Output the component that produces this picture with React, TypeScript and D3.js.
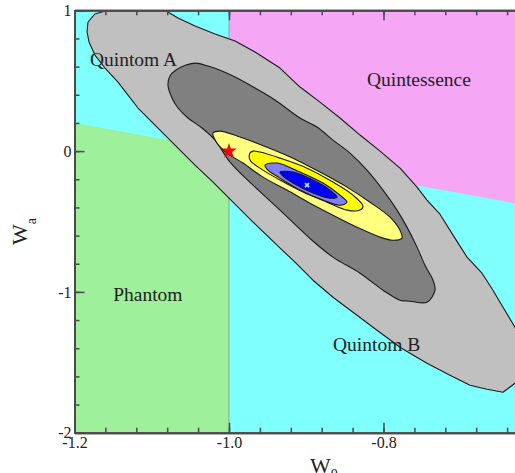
import { useEffect, useRef } from 'react';
import * as d3 from 'd3';

const W = 515;
const H = 473;
const SERIF = '"Liberation Serif", "Times New Roman", serif';

// axes
const xDomain = [-1.2, -0.6];
const yDomain = [-2, 1];
const xMajorTicks = [-1.2, -1.0, -0.8];
const yMajorTicks = [-2, -1, 0, 1];
const xMinorTicks = d3.range(0, 16).map(i => -1.2 + i * 0.04);
const yMinorTicks = d3.range(0, 16).map(i => -2 + i * 0.2);

// background regions (w0, wa)
const phantomRegion = [[-1.2, -2], [-1.2, 0.2], [-1.0, 0.0], [-1.0, -2]];
const quintessenceRegion = [[-1.0, 1], [-0.6, 1], [-0.6, -0.4], [-1.0, 0.0]];

// contours, outer to inner (w0, wa)
const outerGray = [
  [-1.1825, 0.917], [-1.1735, 0.974], [-1.1566, 1.0], [-1.0829, 1.0], [-1.066, 0.945], [-1.044, 0.888],
  [-1.0181, 0.832], [-0.9922, 0.782], [-0.9663, 0.704], [-0.934, 0.59], [-0.9081, 0.455], [-0.8822, 0.348],
  [-0.8563, 0.235], [-0.8304, 0.114], [-0.8045, 0], [-0.7786, -0.121], [-0.7566, -0.256], [-0.7437, -0.348],
  [-0.7269, -0.448], [-0.71, -0.597], [-0.6919, -0.753], [-0.6725, -0.867], [-0.6583, -0.988], [-0.6453, -1.109],
  [-0.6298, -1.251], [-0.6181, -1.4], [-0.6142, -1.542], [-0.6298, -1.649], [-0.6453, -1.713], [-0.666, -1.692],
  [-0.688, -1.663], [-0.7139, -1.592], [-0.7437, -1.507], [-0.7657, -1.436], [-0.7786, -1.393], [-0.8084, -1.272],
  [-0.8343, -1.166], [-0.8654, -1.038], [-0.8913, -0.917], [-0.9146, -0.789], [-0.9405, -0.654], [-0.9728, -0.483],
  [-1.0, -0.334], [-1.022, -0.213], [-1.044, -0.1], [-1.066, 0.021], [-1.0829, 0.114], [-1.0997, 0.206],
  [-1.1178, 0.306], [-1.1307, 0.398], [-1.1437, 0.49], [-1.1605, 0.59], [-1.1735, 0.682], [-1.1812, 0.775],
  [-1.1838, 0.846],
];
const darkGray = [
  [-1.079, 0.469], [-1.0764, 0.533], [-1.0686, 0.576], [-1.0557, 0.611], [-1.0427, 0.625], [-1.0272, 0.604],
  [-1.0091, 0.569], [-0.9922, 0.526], [-0.9663, 0.448], [-0.9405, 0.363], [-0.9081, 0.235], [-0.8861, 0.171],
  [-0.8654, 0.078], [-0.8434, -0.014], [-0.8214, -0.135], [-0.8006, -0.277], [-0.7825, -0.419], [-0.7696, -0.54],
  [-0.7566, -0.682], [-0.7463, -0.81], [-0.7359, -0.917], [-0.7333, -0.988], [-0.7437, -1.073], [-0.7657, -1.066],
  [-0.7786, -1.059], [-0.8006, -0.988], [-0.8304, -0.867], [-0.8654, -0.753], [-0.8926, -0.633], [-0.934, -0.419],
  [-0.9689, -0.242], [-0.9987, -0.078], [-1.0181, 0.078], [-1.035, 0.164], [-1.0531, 0.235], [-1.066, 0.306],
  [-1.0738, 0.377],
];
const lightYellow = [
  [-1.0207, 0.128], [-1.0117, 0.142], [-0.9858, 0.1], [-0.9508, 0.028], [-0.9172, -0.05], [-0.8822, -0.149],
  [-0.8473, -0.256], [-0.8175, -0.363], [-0.7916, -0.469], [-0.7786, -0.562], [-0.7761, -0.618], [-0.7877, -0.633],
  [-0.8045, -0.611], [-0.8343, -0.54], [-0.8654, -0.455], [-0.8951, -0.37], [-0.9249, -0.277], [-0.956, -0.185],
  [-0.9819, -0.085], [-1.0026, -0.014], [-1.0155, 0.057],
];
const yellow = [
  [-0.9728, -0.014], [-0.9689, 0], [-0.9599, -0.007], [-0.934, -0.05], [-0.899, -0.121], [-0.8654, -0.22],
  [-0.8395, -0.313], [-0.8265, -0.391], [-0.8304, -0.419], [-0.8473, -0.419], [-0.8731, -0.363], [-0.9042, -0.291],
  [-0.934, -0.206], [-0.9599, -0.121], [-0.9728, -0.064],
];
const lightBlue = [
  [-0.9534, -0.1], [-0.9379, -0.085], [-0.9081, -0.149], [-0.8783, -0.227], [-0.8563, -0.313], [-0.8473, -0.363],
  [-0.8563, -0.384], [-0.8783, -0.348], [-0.9081, -0.277], [-0.934, -0.192], [-0.9495, -0.135],
];
const blue = [
  [-0.934, -0.149], [-0.9172, -0.149], [-0.8913, -0.206], [-0.8693, -0.277], [-0.8602, -0.327], [-0.8693, -0.334],
  [-0.8913, -0.298], [-0.9172, -0.227], [-0.9314, -0.171],
];

const contours = [
  { pts: outerGray, fill: '#c0c0c0', curve: d3.curveLinearClosed },
  { pts: darkGray, fill: '#808080', curve: d3.curveCatmullRomClosed },
  { pts: lightYellow, fill: '#ffff80', curve: d3.curveCatmullRomClosed },
  { pts: yellow, fill: '#ffff00', curve: d3.curveCatmullRomClosed },
  { pts: lightBlue, fill: '#8080ff', curve: d3.curveCatmullRomClosed },
  { pts: blue, fill: '#0000ff', curve: d3.curveCatmullRomClosed },
];

const regionLabels = [
  { text: 'Quintom A', w0: -1.18, wa: 0.604 },
  { text: 'Quintessence', w0: -0.8214, wa: 0.462 },
  { text: 'Phantom', w0: -1.15, wa: -1.066 },
  { text: 'Quintom B', w0: -0.8654, wa: -1.421 },
];

const lcdmPoint = [-1.0, 0.0];
const bestFit = [-0.899, -0.242];

export default function App() {
  const svgRef = useRef(null);

  useEffect(() => {
    const svg = d3.select(svgRef.current);
    svg.selectAll('*').remove();

    const x = d3.scaleLinear().domain(xDomain).range([74.5, 538]);
    const y = d3.scaleLinear().domain(yDomain).range([432.7, 10.3]);

    svg.append('clipPath').attr('id', 'plot-clip')
      .append('rect')
      .attr('x', x(xDomain[0])).attr('y', y(yDomain[1]))
      .attr('width', x(xDomain[1]) - x(xDomain[0])).attr('height', y(yDomain[0]) - y(yDomain[1]));

    const plot = svg.append('g').attr('clip-path', 'url(#plot-clip)');
    const poly = d3.line().x(d => x(d[0])).y(d => y(d[1])).curve(d3.curveLinearClosed);

    // backgrounds
    plot.append('rect')
      .attr('x', x(xDomain[0])).attr('y', y(yDomain[1]))
      .attr('width', x(xDomain[1]) - x(xDomain[0])).attr('height', y(yDomain[0]) - y(yDomain[1]))
      .attr('fill', '#80ffff');
    plot.append('path').attr('d', poly(phantomRegion)).attr('fill', '#9ef09a');
    plot.append('path').attr('d', poly(quintessenceRegion)).attr('fill', '#f5a6f5');
    plot.append('line')
      .attr('x1', x(-1)).attr('x2', x(-1)).attr('y1', y(yDomain[0])).attr('y2', y(yDomain[1]))
      .attr('stroke', '#7a9a9a').attr('stroke-width', 0.8);

    // contours
    contours.forEach(c => {
      const line = d3.line().x(d => x(d[0])).y(d => y(d[1])).curve(c.curve);
      plot.append('path').attr('d', line(c.pts))
        .attr('fill', c.fill).attr('stroke', '#1a1a1a').attr('stroke-width', 1.1)
        .attr('stroke-linejoin', 'round');
    });

    // labels
    regionLabels.forEach(l => {
      plot.append('text')
        .attr('x', x(l.w0)).attr('y', y(l.wa))
        .attr('font-family', SERIF).attr('font-size', 19.5).attr('fill', '#222')
        .text(l.text);
    });

    // markers
    plot.append('path')
      .attr('d', d3.symbol(d3.symbolStar, 75)())
      .attr('transform', `translate(${x(lcdmPoint[0])},${y(lcdmPoint[1])})`)
      .attr('fill', '#ff0000');
    plot.append('path')
      .attr('d', d3.symbol(d3.symbolCross, 18)())
      .attr('transform', `translate(${x(bestFit[0])},${y(bestFit[1])}) rotate(45)`)
      .attr('fill', '#c8d0ff');

    // axes
    const axisColor = '#4a4a4a';
    const style = (ax, showLabels) => {
      ax.select('.domain').attr('stroke', axisColor).attr('stroke-width', 2);
      ax.selectAll('.tick line').attr('stroke', axisColor).attr('stroke-width', 1.5);
      ax.selectAll('.tick text')
        .attr('fill', '#222').attr('font-family', SERIF).attr('font-size', 16)
        .style('display', showLabels ? null : 'none');
    };

    const bottom = svg.append('g').attr('transform', `translate(0,${y(yDomain[0])})`);
    bottom.append('g')
      .call(d3.axisBottom(x).tickValues(xMinorTicks).tickSizeInner(-5).tickSizeOuter(0))
      .call(ax => style(ax, false));
    bottom.append('g')
      .call(d3.axisBottom(x).tickValues(xMajorTicks).tickSizeInner(-10).tickSizeOuter(0).tickPadding(4)
        .tickFormat(d => d.toFixed(1)))
      .call(ax => style(ax, true));

    const top = svg.append('g').attr('transform', `translate(0,${y(yDomain[1])})`);
    top.append('g')
      .call(d3.axisTop(x).tickValues(xMinorTicks).tickSizeInner(-5).tickSizeOuter(0))
      .call(ax => style(ax, false));
    top.append('g')
      .call(d3.axisTop(x).tickValues(xMajorTicks).tickSizeInner(-10).tickSizeOuter(0))
      .call(ax => style(ax, false));

    const left = svg.append('g').attr('transform', `translate(${x(xDomain[0])},0)`);
    left.append('g')
      .call(d3.axisLeft(y).tickValues(yMinorTicks).tickSizeInner(-5).tickSizeOuter(0))
      .call(ax => style(ax, false));
    left.append('g')
      .call(d3.axisLeft(y).tickValues(yMajorTicks).tickSizeInner(-10).tickSizeOuter(0).tickPadding(3)
        .tickFormat(d => String(d)))
      .call(ax => style(ax, true));

    // axis titles
    const xt = svg.append('text')
      .attr('x', 310).attr('y', 473)
      .attr('font-family', SERIF).attr('font-size', 22).attr('fill', '#222');
    xt.append('tspan').text('W');
    xt.append('tspan').attr('font-size', 14).attr('dy', 6).text('0');

    const yt = svg.append('text')
      .attr('transform', 'translate(27,245) rotate(-90)')
      .attr('font-family', SERIF).attr('font-size', 22).attr('fill', '#222');
    yt.append('tspan').text('W');
    yt.append('tspan').attr('font-size', 14).attr('dy', 9).text('a');
  }, []);

  return (
    <div style={{ position: 'absolute', left: 0, top: 0, width: W, height: H, background: '#fff' }}>
      <svg ref={svgRef} width={W} height={H} style={{ display: 'block' }} />
    </div>
  );
}
